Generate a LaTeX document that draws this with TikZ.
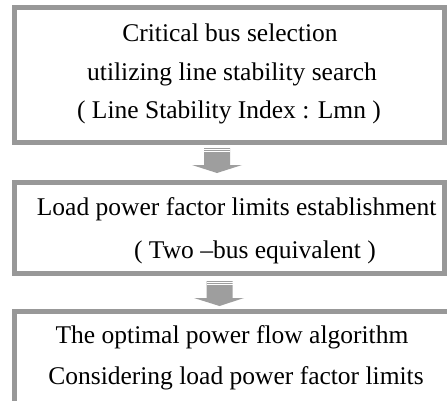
\documentclass[tikz,border=0pt]{standalone}
\usepackage{fontspec}
\setmainfont{Liberation Serif}
\definecolor{frame}{RGB}{152,152,152}
\definecolor{arrowgray}{RGB}{158,158,158}
\tikzset{
  box/.style={draw=frame, line width=4.7pt, fill=none, inner sep=0pt},
  txt/.style={anchor=base, inner sep=0pt, font=\fontsize{25.5pt}{30pt}\selectfont, text=black},
  blockarrow/.style={fill=arrowgray, draw=none},
  rim/.style={draw=white, line width=0.7pt}
}
\begin{document}
\begin{tikzpicture}[x=1pt, y=-1pt]
\useasboundingbox (0,0) rectangle (447,400);
\clip (0,0) rectangle (447,400);
% boxes
\node[box, minimum width=430.1pt, minimum height=134.7pt] (b1) at (229.45,74.85) {};
\node[box, minimum width=430.1pt, minimum height=91.2pt] (b2) at (229.45,227.8) {};
\node[box, minimum width=445.6pt, minimum height=108.3pt] (b3) at (237.2,365.85) {};
% texts
\node[txt] (t11) at (230,41.7) {Critical bus selection};
\node[txt] (t12) at (232,80) {utilizing line stability search};
\node[txt] (t13) at (229,118.3) {( Line Stability Index : Lmn )};
\node[txt] (t21) at (236.6,215) {Load power factor limits establishment};
\node[txt] (t22) at (255,258) {( Two –bus equivalent )};
\node[txt] (t31) at (232,343) {The optimal power flow algorithm};
\node[txt] (t32) at (236,384) {Considering load power factor limits};
% block arrows
\fill[blockarrow] (204,148) -- (230,148) -- (230,165) -- (242,165) -- (217,173) -- (192,165) -- (204,165) -- cycle;
\draw[rim] (204,149.4) -- (230,149.4);
\draw[rim] (204,151.4) -- (230,151.4);
\fill[blockarrow] (206.7,281) -- (232.7,281) -- (232.7,298) -- (244,298) -- (219.5,306) -- (194,298) -- (206.7,298) -- cycle;
\draw[rim] (206.7,282.4) -- (232.7,282.4);
\draw[rim] (206.7,284.4) -- (232.7,284.4);
\end{tikzpicture}
\end{document}
